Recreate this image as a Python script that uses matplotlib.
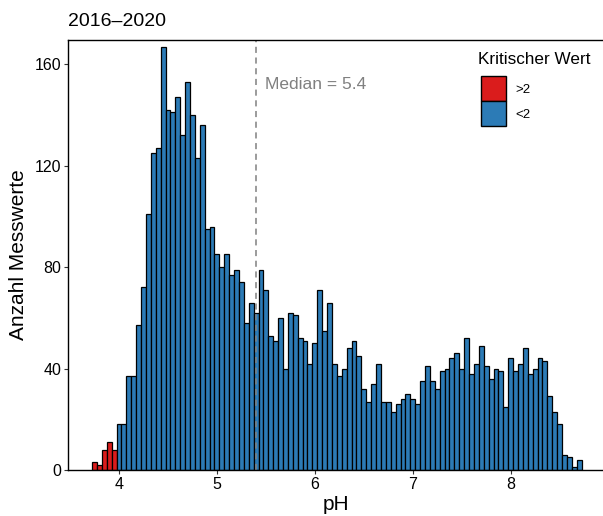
import numpy as np
import matplotlib
matplotlib.use("Agg")
import matplotlib.pyplot as plt
from matplotlib.patches import Patch

plt.rcParams["font.family"] = ["Liberation Sans", "DejaVu Sans"]

# histogram of pH values, bins of 0.05 centred on multiples of 0.05
bin_start = 3.75
bin_width = 0.05
counts = [
    3, 2, 8, 11, 8,
    18, 18, 37, 37, 57, 72, 101, 125, 127, 167, 142, 141, 147, 132, 153, 140, 123, 136, 95, 96,
    85, 80, 85, 77, 79, 74, 58, 66, 62, 79, 71, 53, 51, 60, 40, 62, 61, 52, 51, 42,
    50, 71, 55, 66, 42, 37, 40, 48, 51, 45, 32, 27, 34, 42, 27, 27, 23, 26, 28, 30,
    28, 26, 35, 41, 35, 32, 39, 40, 44, 46, 40, 52, 38, 42, 49, 41, 36, 40, 39, 25,
    44, 39, 42, 48, 38, 40, 44, 43, 29, 23, 18, 6, 5, 1, 4,
]
critical_limit = 4.0
median_ph = 5.4
legend_title = "Kritischer Wert"
legend_labels = [">2", "<2"]
colors = ["#DA1C1C", "#2C7BB6"]

centers = np.round(bin_start + bin_width * np.arange(len(counts)), 2)
bar_colors = [colors[0] if c < critical_limit else colors[1] for c in centers]

fig = plt.figure(figsize=(6.03, 5.16), dpi=100)
ax = fig.add_axes([68 / 603, 46 / 516, 1 - 68 / 603, (470 - 39.7) / 516])

ax.bar(centers, counts, width=bin_width, color=bar_colors,
       edgecolor="black", linewidth=0.9)

ax.axvline(median_ph, color="#808080", linestyle=(0, (4, 3)), linewidth=1.1)
ax.text(median_ph + 0.09, 152, f"Median = {median_ph}", color="#808080",
        fontsize=12.5, va="center", ha="left")

ax.set_xlim(3.479, 8.943)
ax.set_ylim(0, 169.7)
ax.set_xticks([4, 5, 6, 7, 8])
ax.set_yticks([0, 40, 80, 120, 160])
ax.tick_params(labelsize=11.5, length=3, width=0.8, color="#333333",
               labelcolor="black", pad=2)
ax.spines["right"].set_visible(False)
for s in ["left", "bottom", "top"]:
    ax.spines[s].set_linewidth(1.0)

ax.set_xlabel("pH", fontsize=15, labelpad=2)
ax.set_ylabel("Anzahl Messwerte", fontsize=15, labelpad=4.5)
ax.set_title("2016\u20132020", fontsize=14, loc="left", pad=10)

# legend: title as separate text, keys below it
fig.text(478 / 603, 1 - 60 / 516, legend_title, fontsize=12.3,
         ha="left", va="center")
handles = [Patch(facecolor=colors[i], edgecolor="black", linewidth=1.0)
           for i in range(2)]
ax.legend(handles, legend_labels, loc="upper left",
          bbox_to_anchor=(478.5 / 603, 1 - 73.5 / 516),
          bbox_transform=fig.transFigure, frameon=False,
          fontsize=9.5, handlelength=1.85, handleheight=2.55,
          labelspacing=0.0, handletextpad=0.75, borderpad=0.2,
          borderaxespad=0)

fig.savefig("out.png", dpi=100)
